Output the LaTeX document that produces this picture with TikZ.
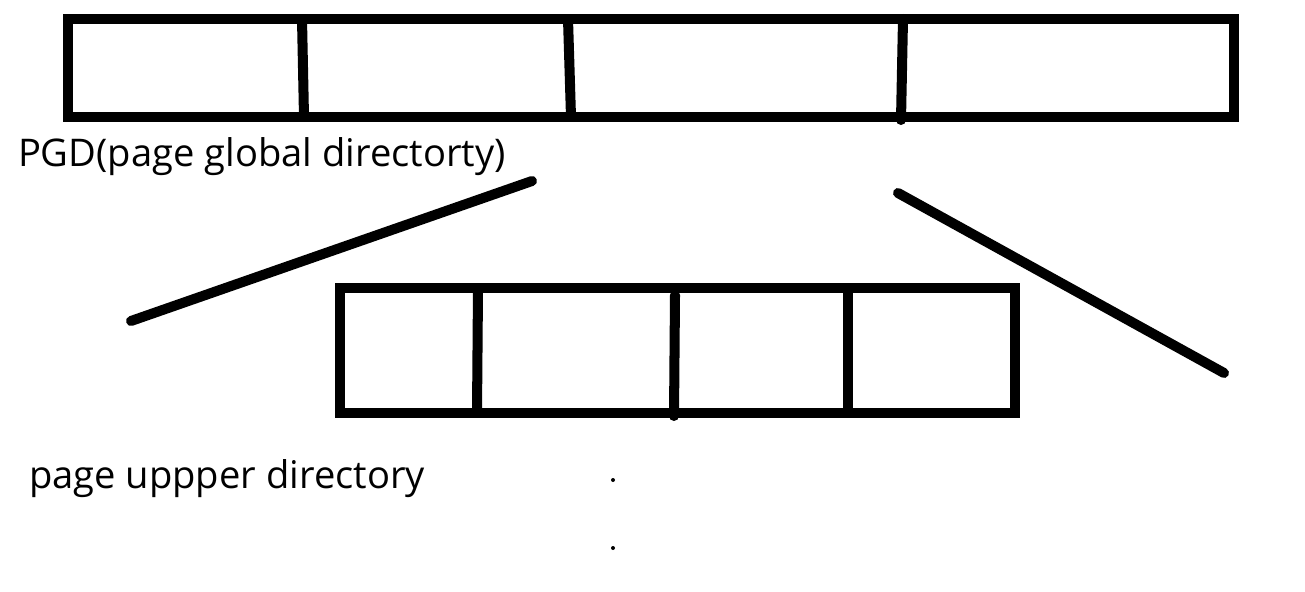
\documentclass[tikz,border=0pt]{standalone}
\usepackage{fontspec}
\setmainfont{Open Sans}
\usepackage{tikz}
\usetikzlibrary{calc}

\begin{document}
\begin{tikzpicture}[x=1cm, y=-1cm, line width=2.85pt, every node/.style={font=\fontsize{10.85pt}{13pt}\selectfont, inner sep=0pt}]
  \useasboundingbox (0,0) rectangle (13.05,5.92);
  % page global directory
  \coordinate (G1) at (0.68,0.19);
  \coordinate (G2) at (12.34,1.17);
  \draw (G1) rectangle (G2);
  \draw (3.02,0.19) -- (3.04,1.17);
  \draw (5.68,0.19) -- (5.71,1.17);
  \draw[line cap=round] (9.03,0.19) -- (9.01,1.20);
  \node[anchor=base west] (pgd) at (0.13,1.66) {PGD(page global directorty)};
  % fan-out lines
  \coordinate (L1a) at (5.32,1.81);
  \coordinate (L1b) at (1.31,3.21);
  \coordinate (L2a) at (8.98,1.93);
  \coordinate (L2b) at (12.24,3.73);
  \draw[line cap=round] (L1a) -- (L1b);
  \draw[line cap=round] (L2a) -- (L2b);
  % page upper directory
  \coordinate (U1) at (3.40,2.88);
  \coordinate (U2) at (10.15,4.13);
  \draw (U1) rectangle (U2);
  \draw (4.78,2.88) -- (4.77,4.13);
  \draw[line cap=round] (6.75,2.95) -- (6.74,4.16);
  \draw (8.48,2.88) -- (8.48,4.16);
  \node[anchor=base west] (pud) at (0.24,4.88) {page uppper directory};
  % dots
  \fill (6.13,4.80) circle (0.02);
  \fill (6.13,5.48) circle (0.02);
\end{tikzpicture}
\end{document}
